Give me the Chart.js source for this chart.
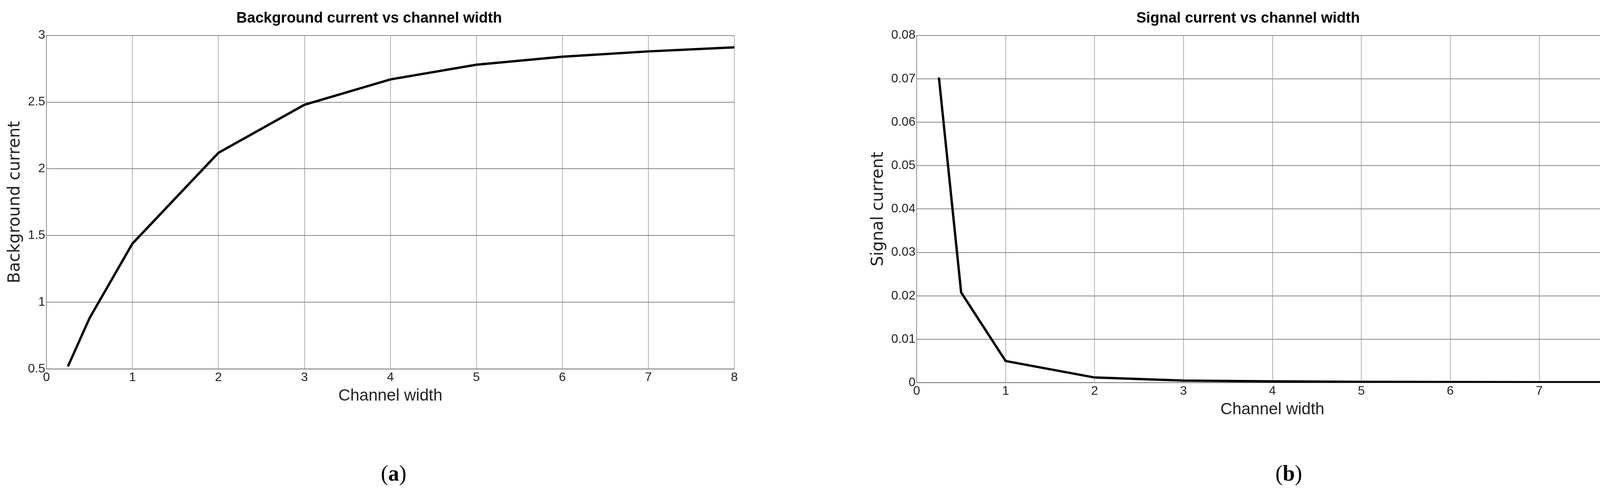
<!DOCTYPE html>
<html>
<head>
<meta charset="utf-8">
<script src="https://cdn.jsdelivr.net/npm/chart.js@4"></script>
<style>
  body { margin: 0; background: #fff; width: 4212px; height: 1255px; position: relative; overflow: hidden; }
  .box { position: absolute; top: 0; }
  .cap { position: absolute; top: 1180px; font: 56px "Liberation Serif", serif; }
</style>
</head>
<body>
<div class="box" style="left:0;width:1900px;height:1040px"><canvas id="chartA"></canvas></div>
<div class="box" style="left:2150px;width:2030px;height:1075px"><canvas id="chartB"></canvas></div>
<div class="cap" style="left:975px">(<b>a</b>)</div>
<div class="cap" style="left:3265px">(<b>b</b>)</div>
<script>
// données
const widths = [0.25, 0.5, 1, 2, 3, 4, 5, 6, 7, 8];
const backgroundCurrent = [0.52, 0.88, 1.44, 2.12, 2.48, 2.67, 2.78, 2.84, 2.88, 2.91];
const signalCurrent = [0.0703, 0.0208, 0.005, 0.0012, 0.0005, 0.0003, 0.0002, 0.00015, 0.0001, 0.0001];

function makeChart(id, values, yMin, yMax, yStep, yTitle, title, pad) {
  return new Chart(document.getElementById(id), {
    type: "line",
    data: {
      datasets: [{
        data: widths.map((w, i) => ({ x: w, y: values[i] })),
        borderColor: "#000",
        borderWidth: 6,
        pointRadius: 0,
        tension: 0,
      }],
    },
    options: {
      responsive: true,
      maintainAspectRatio: false,
      animation: false,
      layout: { padding: pad },
      plugins: {
        legend: { display: false },
        title: {
          display: true,
          text: title,
          color: "#000",
          font: { family: "Liberation Sans", size: 38, weight: "bold" },
          padding: { top: 25, bottom: 20 },
        },
      },
      scales: {
        x: {
          type: "linear", min: 0, max: 8,
          ticks: { stepSize: 1, color: "#222", font: { family: "Liberation Sans", size: 32 } },
          grid: { color: "#999", lineWidth: 1.5, tickLength: 0 },
          border: { color: "#555" },
          title: { display: true, text: "Channel width", color: "#222", font: { family: "Liberation Sans", size: 42 }, padding: 0 },
        },
        y: {
          min: yMin, max: yMax,
          ticks: { stepSize: yStep, color: "#222", font: { family: "Liberation Sans", size: 32 },
            callback: (v) => String(parseFloat(v.toFixed(4))) },
          grid: { color: "#888", lineWidth: 2, tickLength: 0 },
          border: { color: "#555" },
          title: { display: true, text: yTitle, color: "#222", font: { family: "DejaVu Sans", size: 42 } },
        },
      },
    },
  });
}

makeChart("chartA", backgroundCurrent, 0.5, 3, 0.5, "Background current", "Background current vs channel width", { left: 10, right: 20, top: 0 });
makeChart("chartB", signalCurrent, 0, 0.08, 0.01, "Signal current", "Signal current vs channel width", { left: 70, right: 10, top: 0 });
</script>
</body>
</html>
